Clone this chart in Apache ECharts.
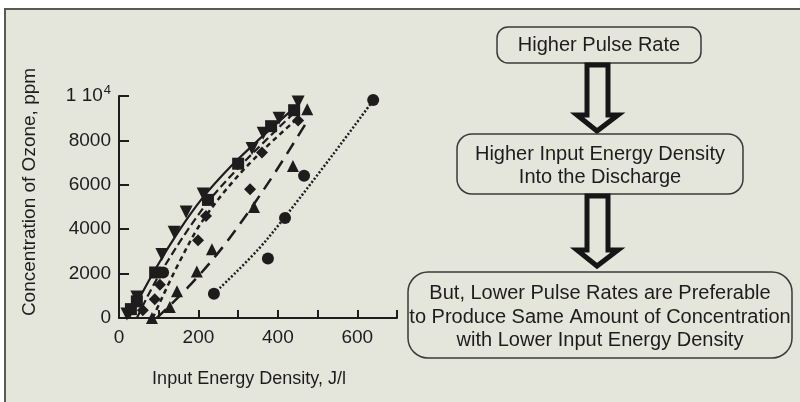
<!DOCTYPE html>
<html>
<head>
<meta charset="utf-8">
<script src="https://cdn.jsdelivr.net/npm/echarts@6/dist/echarts.min.js"></script>
<style>
html, body { margin: 0; padding: 0; background: #fff; }
#chart { width: 800px; height: 402px; }
</style>
</head>
<body>
<div id="chart"></div>
<script>
// ---- values ----
// measured points (x = input energy density J/l, y = ozone ppm)
var ptsDown    = [[20,180],[45,950],[108,2860],[139,3860],[169,4770],[212,5590],[335,7640],[363,8320],[403,9000],[451,9730]];
var ptsSquare  = [[30,400],[45,750],[91,2050],[224,5320],[300,6950],[383,8640],[441,9360]];
var ptsDiamond = [[60,350],[90,850],[103,1500],[199,3500],[219,4590],[330,5800],[360,7450],[451,8900]];
var ptsUp      = [[83,0],[128,500],[146,1200],[196,2100],[234,3100],[340,5000],[438,6850],[474,9400]];
var ptsCircle  = [[111,2050],[239,1090],[375,2680],[418,4500],[466,6410],[640,9820]];

// fitted curves drawn through each group
var fitSolid   = [[25,0],[90,2150],[150,3900],[210,5400],[280,6800],[350,8000],[450,9600]];
var fitDash    = [[45,0],[100,1900],[210,4900],[300,6750],[450,9400]];
var fitDiamond = [[85,0],[150,2450],[215,4500],[320,6800],[450,9000]];
var fitUp      = [[95,0],[180,1500],[270,3400],[380,6200],[475,8900]];
var fitCircle  = [[239,1100],[373,3550],[640,9800]];

// axis labels
var xLabelVals = [0, 200, 400, 600];
var xName = 'Input Energy Density, J/l';
var yName = 'Concentration of Ozone, ppm';

// flow chart texts
var box1Text = 'Higher Pulse Rate';
var box2Text = ['Higher Input Energy Density', 'Into the Discharge'];
var box3Text = ['But, Lower Pulse Rates are Preferable', 'to Produce Same Amount of Concentration', 'with Lower Input Energy Density'];

var ink = '#1e1c1d';
var bg = '#e4e5db';
var font = '"Liberation Sans", Arial, sans-serif';

function fitLine(data, dash, w) {
  return {
    type: 'line', data: data, smooth: 0.35, showSymbol: false, silent: true,
    lineStyle: { color: ink, width: w || 2.2, type: dash, opacity: 1 }, z: 2
  };
}
function pts(data, symbol, size, rot) {
  return {
    type: 'scatter', data: data, symbol: symbol, symbolSize: size, symbolRotate: rot || 0,
    itemStyle: { color: ink, opacity: 1 }, z: 3
  };
}

// hollow down-arrow outline
function arrow(top, headY, tip) {
  return {
    type: 'polygon', z: 5,
    shape: { points: [[587,top],[608,top],[608,headY],[618,headY],[597,tip],[577,headY],[587,headY]] },
    style: { fill: bg, stroke: '#161616', lineWidth: 5, lineJoin: 'miter' }
  };
}
function box(x, y, w, h, r) {
  return {
    type: 'rect', z: 5, shape: { x: x, y: y, width: w, height: h, r: r },
    style: { fill: bg, stroke: '#3a3a3a', lineWidth: 1.5 }
  };
}
function label(txt, x, y) {
  return {
    type: 'text', z: 6, x: x, y: y,
    style: { text: txt, fill: ink, font: '20px ' + font, textAlign: 'center', textVerticalAlign: 'middle' }
  };
}

var chart = echarts.init(document.getElementById('chart'));

var option = {
  backgroundColor: '#ffffff',
  animation: false,
  textStyle: { fontFamily: font },
  grid: { left: 119, right: 403, top: 96, bottom: 84, containLabel: false, outerBoundsMode: 'none' },
  xAxis: {
    type: 'value', min: 0, max: 700, interval: 100,
    name: xName, nameLocation: 'middle', nameGap: 52,
    nameTextStyle: { fontSize: 18, color: ink, padding: [0, 18, 0, 0] },
    axisLine: { lineStyle: { color: ink, width: 2 } },
    axisTick: { inside: true, length: 8, lineStyle: { color: ink, width: 2 } },
    axisLabel: {
      margin: 10, fontSize: 19, color: ink,
      formatter: function (v) { return xLabelVals.indexOf(v) >= 0 ? String(v) : ''; }
    },
    splitLine: { show: false }
  },
  yAxis: {
    type: 'value', min: 0, max: 10000, interval: 2000,
    name: yName, nameLocation: 'middle', nameGap: 80,
    nameTextStyle: { fontSize: 19, color: ink, padding: [0, 0, 0, 30] },
    axisLine: { show: true, lineStyle: { color: ink, width: 2 } },
    axisTick: { show: true, inside: true, length: 10, lineStyle: { color: ink, width: 2 } },
    axisLabel: {
      margin: 8, fontSize: 19, color: ink,
      formatter: function (v) { return v === 10000 ? '{n|1 10}{s|4}' : String(v); },
      rich: {
        n: { fontSize: 19, color: ink },
        s: { fontSize: 13, color: ink, padding: [0, 0, 12, 1] }
      }
    },
    splitLine: { show: false }
  },
  series: [
    fitLine(fitSolid, 'solid', 2.2),
    fitLine(fitDash, [8, 4], 2.2),
    fitLine(fitDiamond, [5, 4], 2.5),
    fitLine(fitUp, [13, 8], 2.5),
    fitLine(fitCircle, [2, 2], 2.5),
    pts(ptsDown, 'triangle', 13, 180),
    pts(ptsSquare, 'rect', 12),
    pts(ptsDiamond, 'diamond', 12),
    pts(ptsUp, 'triangle', 12),
    pts(ptsCircle, 'circle', 12)
  ],
  graphic: [
    {
      type: 'rect', z: -10, silent: true,
      shape: { x: 5, y: 9, width: 810, height: 410 },
      style: { fill: bg, stroke: '#5a5a55', lineWidth: 2 }
    },
    box(497, 27, 204, 36, 11),
    label(box1Text, 599, 45),
    arrow(65, 115, 131),
    box(457, 134, 286, 60, 15),
    label(box2Text[0], 600, 154),
    label(box2Text[1], 600, 177),
    arrow(196, 250, 266),
    box(408, 272, 384, 86, 20),
    label(box3Text[0], 600, 293),
    label(box3Text[1], 600, 317),
    label(box3Text[2], 600, 340)
  ]
};

chart.setOption(option);
</script>
</body>
</html>
